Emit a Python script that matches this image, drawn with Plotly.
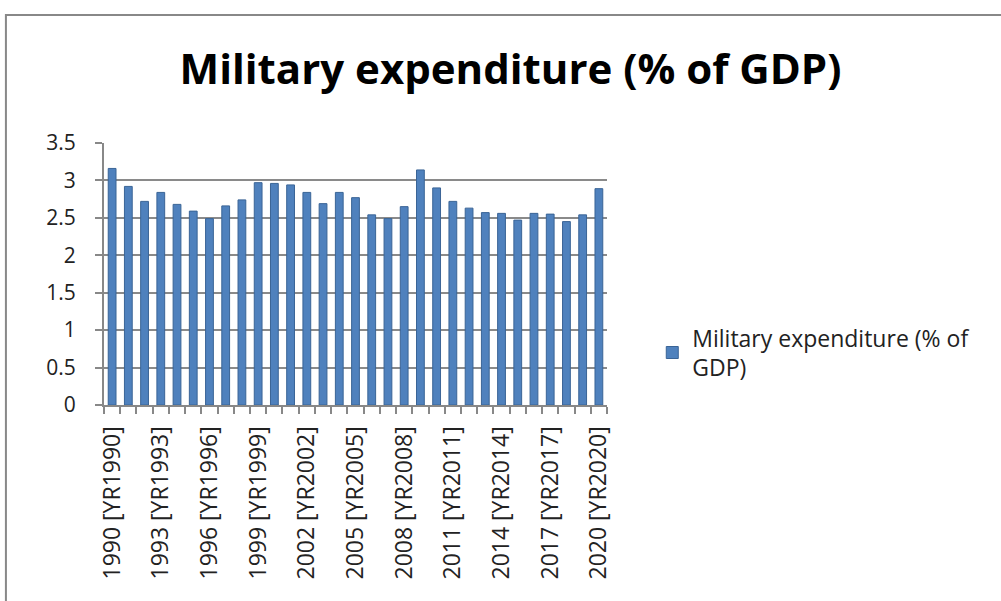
import plotly.graph_objects as go

# Military expenditure, % of GDP, 1990-2020
years = list(range(1990, 2021))
categories = [f"{y} [YR{y}]" for y in years]
values = [3.16, 2.92, 2.72, 2.84, 2.68, 2.59, 2.49, 2.66, 2.74, 2.97,
          2.96, 2.94, 2.84, 2.69, 2.84, 2.77, 2.54, 2.49, 2.65, 3.14,
          2.90, 2.72, 2.63, 2.57, 2.56, 2.47, 2.56, 2.55, 2.45, 2.54, 2.89]
# every third year carries a label
tick_text = [c if (i % 3 == 0) else "" for i, c in enumerate(categories)]
series_name = "Military expenditure (% of<br>GDP)"
y_ticks = [0, 0.5, 1, 1.5, 2, 2.5, 3, 3.5]
y_tick_text = ["0", "0.5", "1", "1.5", "2", "2.5", "3", "3.5"]

FONT = "Open Sans"

fig = go.Figure()
fig.add_trace(go.Bar(
    x=categories, y=values, name=series_name,
    marker=dict(color="#4f81bd", line=dict(color="#3a6496", width=1)),
    showlegend=True,
))

fig.update_layout(
    width=1001, height=601,
    paper_bgcolor="white", plot_bgcolor="white",
    margin=dict(l=104, r=394, t=143, b=196),
    bargap=0.52,
    title=dict(text="<b>Military expenditure (% of GDP)</b>",
               x=0.51, xanchor="center", y=0.885, yanchor="middle",
               font=dict(family=FONT, size=42, color="black")),
    font=dict(family=FONT, color="#222"),
    legend=dict(x=1.09, y=0.2, xanchor="left", yanchor="middle",
                font=dict(family=FONT, size=23, color="#222"),
                bgcolor="rgba(0,0,0,0)", itemwidth=30),
    showlegend=True,
    xaxis=dict(
        type="category", tickmode="array", tickvals=categories, ticktext=tick_text,
        tickangle=-90, tickson="boundaries", ticks="outside", ticklen=7,
        tickcolor="#888", tickwidth=2,
        showline=True, linecolor="#888", linewidth=2,
        showgrid=False, tickfont=dict(family=FONT, size=23, color="#222"),
        ticklabelstandoff=10,
        range=[-0.5, len(categories) - 0.5],
    ),
    yaxis=dict(
        range=[0, 3.5], tickmode="array", tickvals=y_ticks, ticktext=y_tick_text,
        ticks="outside", ticklen=7, tickcolor="#888", tickwidth=2,
        showline=True, linecolor="#888", linewidth=2,
        showgrid=True, gridcolor="#8a8a8a", gridwidth=2,
        tickfont=dict(family=FONT, size=21, color="#222"),
        ticklabelstandoff=15, zeroline=False,
    ),
    shapes=[dict(type="rect", xref="paper", yref="paper",
                 x0=-0.195, x1=1.9, y0=-1.0, y1=1.489,
                 line=dict(color="#888", width=2), fillcolor="rgba(0,0,0,0)",
                 layer="below")],
)

fig.write_html("out.html")
